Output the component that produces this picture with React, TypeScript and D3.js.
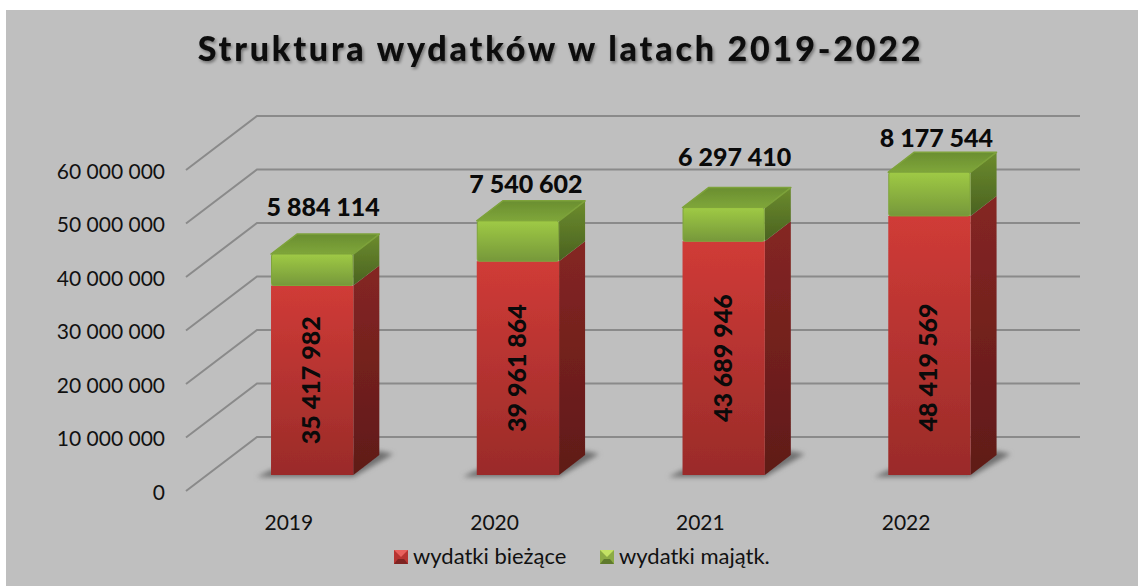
import React from "react";
import * as d3 from "d3";

const years = ["2019", "2020", "2021", "2022"];
const biezace = [35417982, 39961864, 43689946, 48419569];
const majatk = [5884114, 7540602, 6297410, 8177544];
const legendNames = ["wydatki bieżące", "wydatki majątk."];
const titleText = "Struktura wydatków w latach 2019-2022";

// nudges of the value labels, the original chart has them placed by hand
const topLabelLift = [27, 17, 31, 14];
const topLabelShift = [0, -3, 0, -4];
const redLabelShift = [0, 0, 0, 22];

const width = 1138;
const height = 586;
const fontFam = "Lato, Carlito, sans-serif";

// wall depth and bar depth of the fake 3d
const wallDx = 71;
const wallDy = -54;
const barDx = 26;
const barDy = -20;
const barPlaneDx = 23.3;
const barPlaneDy = -16;

const fmt = d3.formatLocale({
  decimal: ",",
  thousands: " ",
  grouping: [3],
  currency: ["", ""],
}).format(",d");

const x = d3.scaleBand<string>().domain(years).range([186, 1009]).paddingInner(0.6).paddingOuter(0.3);
const y = d3.scaleLinear().domain([0, 60000000]).range([491, 170]);
const ticks = d3.range(0, 60000001, 10000000);

const poly = (pts: [number, number][]) => {
  const p = d3.path();
  pts.forEach((d, i) => (i ? p.lineTo(d[0], d[1]) : p.moveTo(d[0], d[1])));
  p.closePath();
  return p.toString();
};

const stops = (id: string, c1: string, c2: string) => (
  <linearGradient id={id} x1="0" y1="0" x2="0" y2="1">
    <stop offset="0" stopColor={c1} />
    <stop offset="1" stopColor={c2} />
  </linearGradient>
);

const Swatch = ({ px, light, mid, dark }: { px: number; light: string; mid: string; dark: string }) => (
  <g>
    <rect x={px} y={550} width={14} height={14} fill={mid} />
    <path d={poly([[px, 550], [px + 14, 550], [px + 7, 557]])} fill={light} />
    <path d={poly([[px, 564], [px + 14, 564], [px + 10, 559], [px + 4, 559]])} fill={dark} />
  </g>
);

export default function App() {
  return (
    <svg
      width={width}
      height={height}
      style={{ position: "absolute", left: 0, top: 0, background: "#fff" }}
      fontFamily={fontFam}
    >
      <defs>
        {stops("redFront", "#d03b37", "#9a2b29")}
        {stops("redSide", "#852623", "#5f1a18")}
        {stops("greenFront", "#9fca45", "#76983a")}
        {stops("greenSide", "#6c8c2e", "#4a6220")}
        {stops("greenTop", "#6a8e30", "#7fa63a")}
        <filter id="titleShadow" x="-5%" y="-30%" width="110%" height="170%">
          <feDropShadow dx="1.5" dy="2" stdDeviation="1.5" floodColor="#000" floodOpacity="0.4" />
        </filter>
        <filter id="baseBlur" x="-20%" y="-50%" width="140%" height="200%">
          <feGaussianBlur stdDeviation="2.5" />
        </filter>
        <filter id="soft" x="-5%" y="-5%" width="110%" height="110%">
          <feGaussianBlur stdDeviation="0.4" />
        </filter>
      </defs>

      <rect x={6} y={10} width={width - 6} height={height - 10} fill="#bfbfbf" />

      <text
        x={560.5}
        y={61}
        textAnchor="middle"
        fontSize={34}
        fontWeight={900}
        letterSpacing={2.8}
        fill="#0a0a0a"
        filter="url(#titleShadow)"
      >
        {titleText}
      </text>

      {/* wall + floor lines */}
      <g stroke="#8a8a8a" strokeWidth={2} fill="none">
        {ticks.map((t) => (
          <path
            key={t}
            d={`M${x.range()[0]},${y(t)}L${x.range()[0] + wallDx},${y(t) + wallDy}L${x.range()[1] + wallDx},${y(t) + wallDy}`}
          />
        ))}
      </g>

      {ticks.map((t) => (
        <text key={t} x={165} y={y(t) + 8.5} textAnchor="end" fontSize={21} fill="#111">
          {fmt(t)}
        </text>
      ))}

      {years.map((yr, i) => {
        const x0 = (x(yr) as number) + barPlaneDx;
        const x1 = x0 + x.bandwidth();
        const yBase = y(0) + barPlaneDy;
        const yMid = y(biezace[i]) + barPlaneDy;
        const yTop = y(biezace[i] + majatk[i]) + barPlaneDy;
        return (
          <g key={yr}>
            {/* shadow on the floor */}
            <path
              d={poly([
                [x0 - 14, yBase + 2],
                [x1, yBase + 2],
                [x1 + barDx + 14, yBase + barDy - 1],
                [x1 + barDx, yBase + barDy - 4],
                [x0, yBase - 5],
              ])}
              fill="#707070"
              filter="url(#baseBlur)"
            />
            <g filter="url(#soft)">
              <path
                d={poly([[x1, yBase], [x1 + barDx, yBase + barDy], [x1 + barDx, yMid + barDy], [x1, yMid]])}
                fill="url(#redSide)"
              />
              <path
                d={poly([[x1, yMid], [x1 + barDx, yMid + barDy], [x1 + barDx, yTop + barDy], [x1, yTop]])}
                fill="url(#greenSide)"
              />
              <path
                d={poly([[x0, yTop], [x1, yTop], [x1 + barDx, yTop + barDy], [x0 + barDx, yTop + barDy]])}
                fill="url(#greenTop)"
                stroke="#7da23a"
                strokeWidth={1.5}
                strokeLinejoin="round"
              />
              <rect x={x0} y={yMid} width={x.bandwidth()} height={yBase - yMid} fill="url(#redFront)" />
              <rect
                x={x0 + 0.5}
                y={yTop}
                width={x.bandwidth() - 1}
                height={yMid - yTop}
                rx={2}
                fill="url(#greenFront)"
                stroke="#7fa43a"
                strokeWidth={1}
              />
            </g>
            <text
              x={(x0 + x1) / 2 + barDx / 2 - 2 + topLabelShift[i]}
              y={yTop + barDy - topLabelLift[i] + 9}
              textAnchor="middle"
              fontSize={25}
              fontWeight={900}
              fill="#0a0a0a"
            >
              {fmt(majatk[i])}
            </text>
            <text
              transform={`translate(${(x0 + x1) / 2 + 8},${(yMid + yBase) / 2 + redLabelShift[i]}) rotate(-90)`}
              textAnchor="middle"
              fontSize={25}
              fontWeight={900}
              fill="#0a0a0a"
            >
              {fmt(biezace[i])}
            </text>
            <text
              x={(x(yr) as number) + x.bandwidth() / 2}
              y={530}
              textAnchor="middle"
              fontSize={21}
              fill="#111"
            >
              {yr}
            </text>
          </g>
        );
      })}

      <Swatch px={394} light="#e8605c" mid="#b73431" dark="#7e2422" />
      <text x={413} y={564} fontSize={22} fill="#111">
        {legendNames[0]}
      </text>
      <Swatch px={600} light="#c3e264" mid="#8cab45" dark="#5f7a2c" />
      <text x={619} y={564} fontSize={22} fill="#111">
        {legendNames[1]}
      </text>
    </svg>
  );
}
